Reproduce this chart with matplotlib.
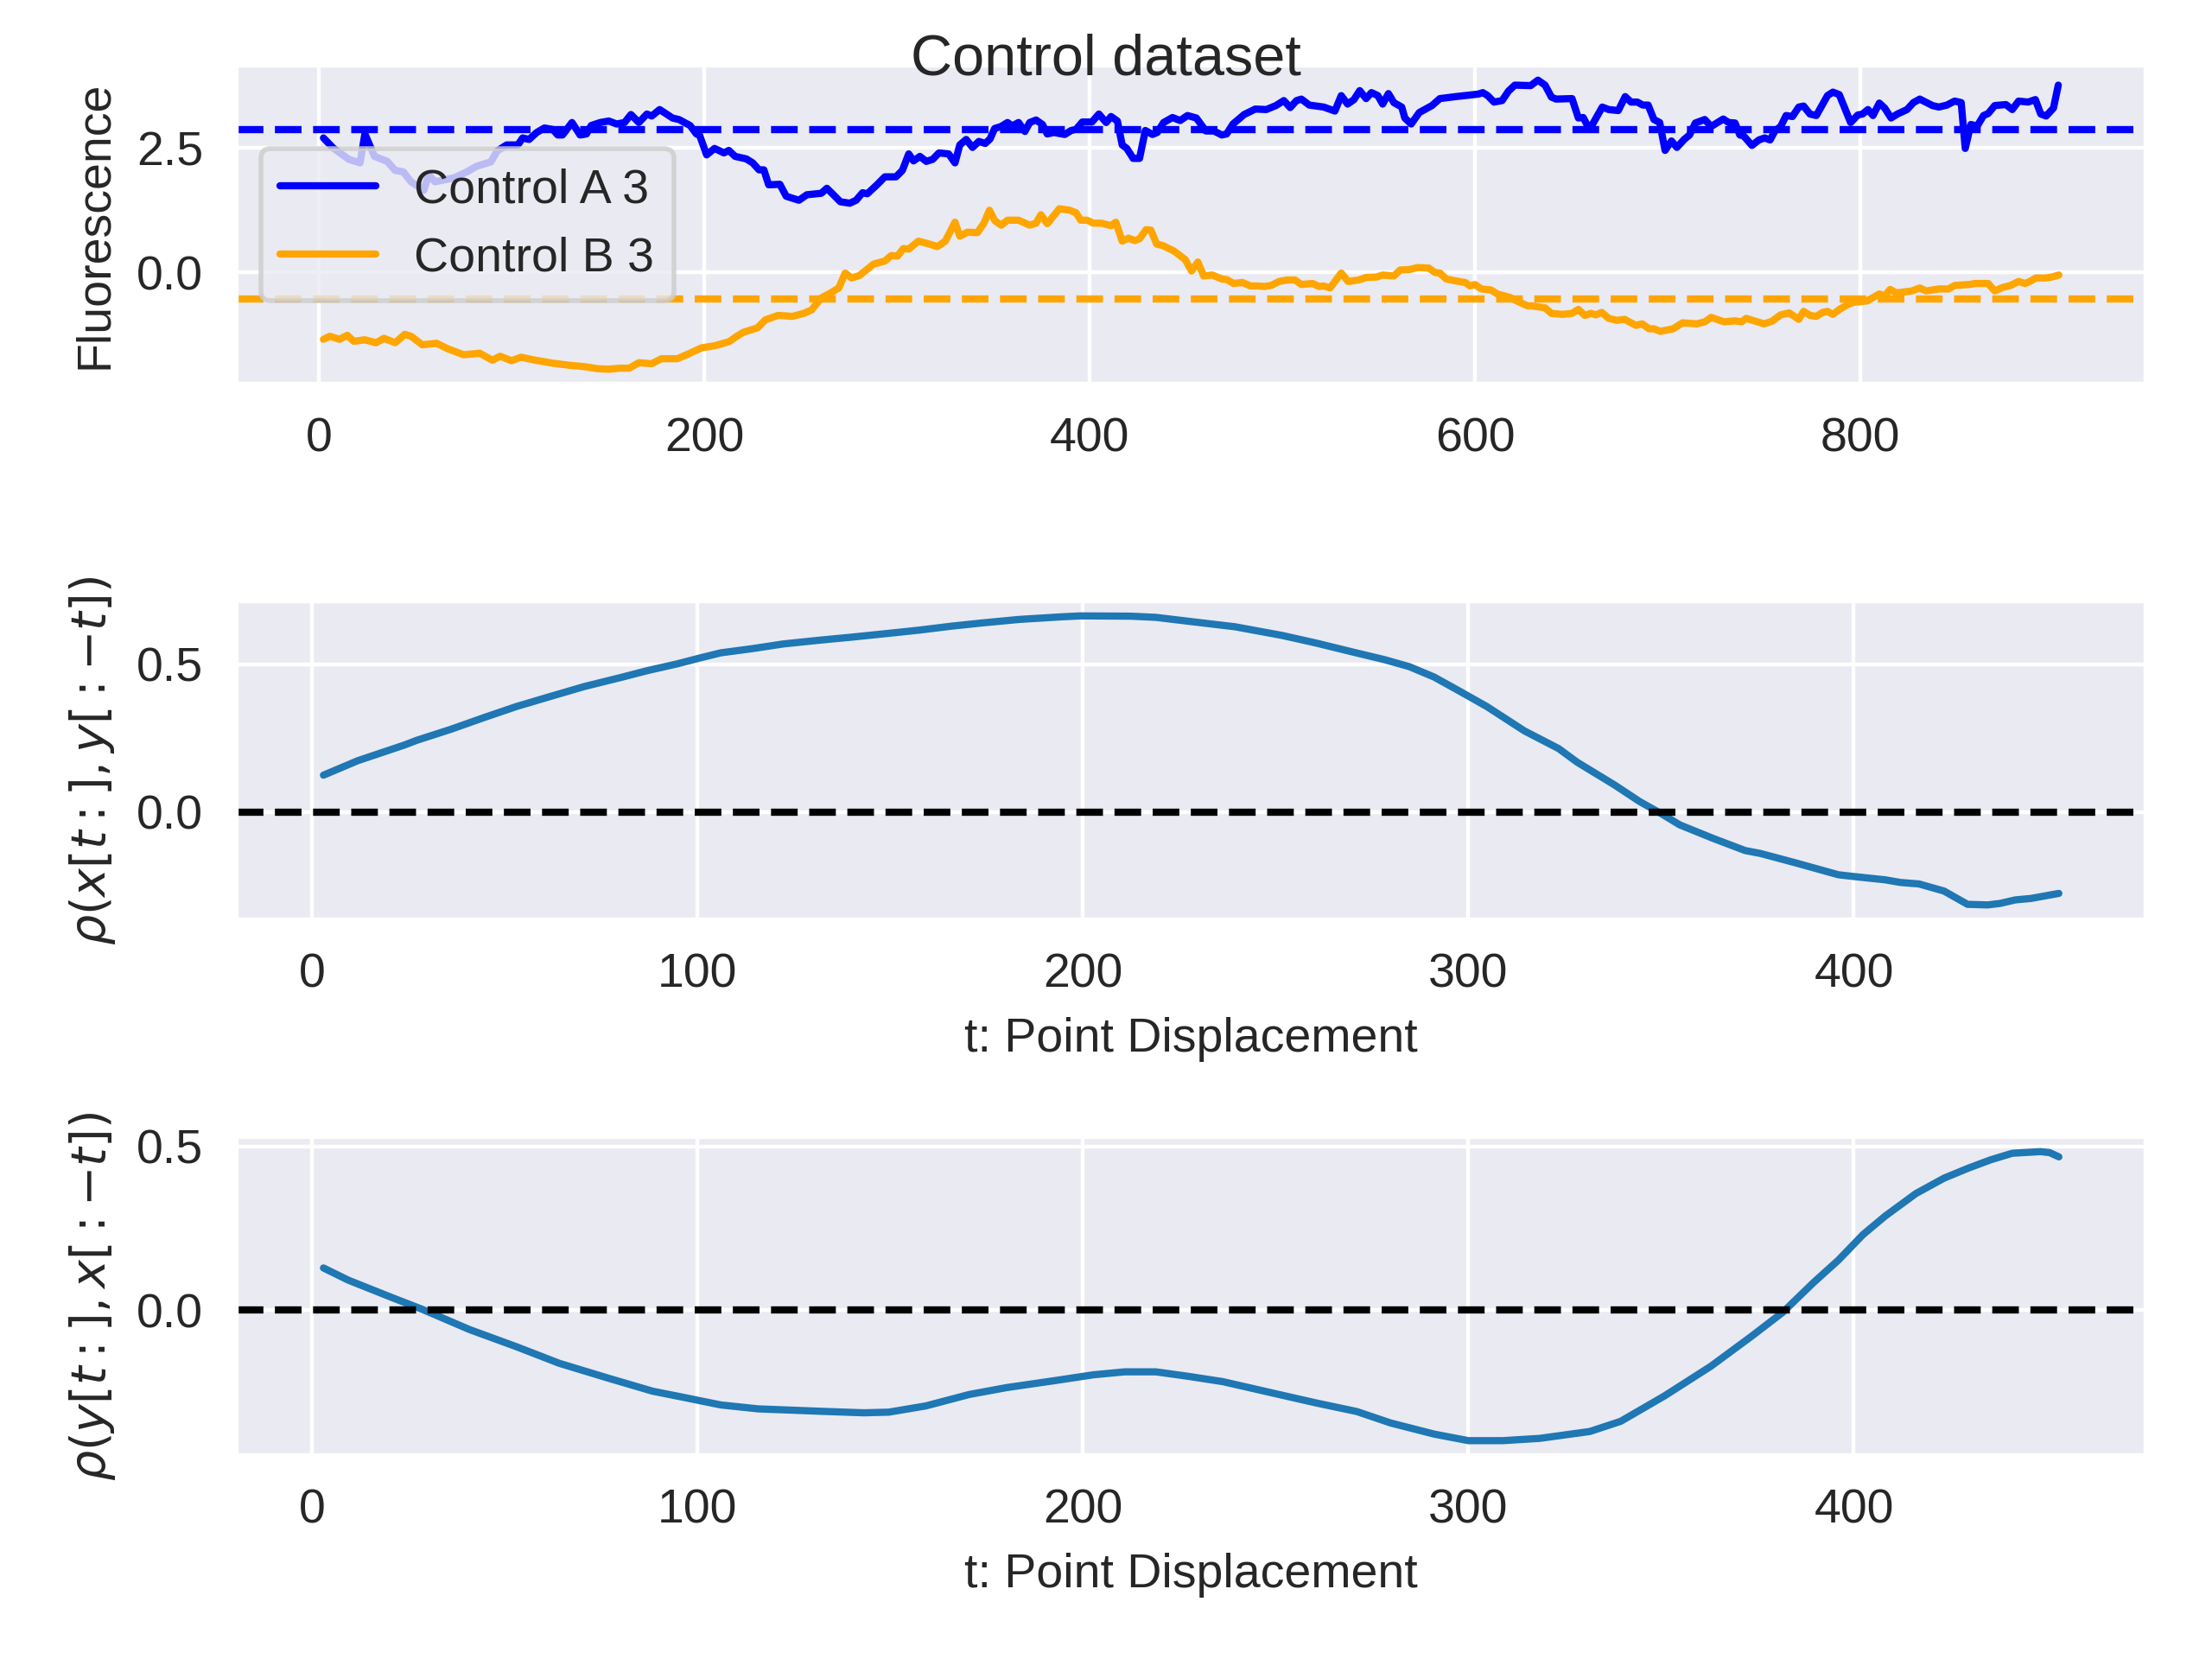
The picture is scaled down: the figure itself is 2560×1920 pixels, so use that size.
"""Control dataset: two fluorescence traces and their lagged cross-correlations."""
import matplotlib
matplotlib.use("Agg")
import matplotlib.pyplot as plt
import seaborn as sns

# --- values ---
a_t = [2.3, 7.3, 15.5, 21.3, 23.8, 28.8, 35.4, 39.5, 43.7, 47.8, 54.4, 56.9, 60.2,
       70.1, 76.8, 81.7, 89.2, 92.5, 97.4, 103.2, 105.7, 109, 113, 117, 121.4,
       123.9, 126.4, 131.3, 135.5, 138.8, 141.3, 146, 150.4, 154.5, 158.6, 161.9,
       166, 170.2, 172.7, 176.8, 183.5, 186.8, 192.6, 195.9, 197.5, 201.2, 205.3,
       210.2, 212.7, 216, 221.8, 225.1, 228.4, 230.9, 233.4, 239.2, 242.5, 249.1,
       253.2, 260.7, 263.6, 266.5, 270.6, 275.5, 278.8, 282.1, 284.6, 289.6, 293.7,
       299.5, 302.8, 306.1, 308.6, 311.9, 315.2, 318.5, 321.8, 326.8, 330.1, 332.6,
       335.9, 339.2, 342.5, 345.8, 348.3, 350.7, 354, 357.4, 359.8, 363.1, 366.4,
       368.9, 372.2, 375.5, 378, 381.3, 387.1, 390.4, 392.9, 396.2, 401.2, 404.8,
       408.6, 411.1, 414.4, 416.9, 419.3, 422.6, 425.9, 428.9, 432.6, 435.1, 438.4,
       443.0, 447.0, 450.8, 455.4, 460.3, 464.5, 468.6, 471.1, 474.4, 480.2, 486,
       491.7, 496.7, 500.8, 504.1, 507.4, 509.9, 514, 521.5, 527.3, 530.6, 533.9,
       537.2, 540.2, 543.5, 546.3, 549.6, 552.1, 555.1, 557.9, 562, 563.6, 566.9,
       571.1, 577.7, 581.8, 590.1, 601.7, 604.1, 606.6, 609.9, 614.1, 617.4, 620.7,
       628.9, 632.7, 636.4, 639.7, 642.1, 650.4, 653.7, 656.2, 659.5, 666.1, 669.4,
       674.4, 678, 681, 684.3, 687.1, 689.9, 692.9, 695.9, 698.7, 702, 704.8, 708.6,
       711.4, 714.4, 719.3, 722.6, 728.9, 731.7, 735, 737.5, 739.5, 743.8, 747.4,
       750.4, 753.2, 755.7, 758.7, 761.5, 764.8, 768.1, 770.6, 773.9, 777.2, 783,
       785.8, 789.1, 795, 798.7, 801.2, 804, 806.6, 809.9, 812.7, 816, 819.3, 824.3,
       827.6, 830.9, 837.5, 840.8, 845, 849, 852.4, 854.5, 857.4, 860.7, 864, 866.4,
       869.8, 875.6, 878.9, 882.2, 887.1, 890.9, 893.7, 896.5, 900.3, 902.8]
a_val = [2.70, 2.50, 2.27, 2.20, 2.78, 2.33, 2.23, 2.05, 2.02, 1.82, 1.65, 1.96, 1.82,
         1.90, 2.02, 2.13, 2.22, 2.44, 2.56, 2.56, 2.70, 2.67, 2.81, 2.90, 2.87,
         2.76, 2.76, 3.01, 2.76, 2.78, 2.95, 3.01, 3.04, 2.98, 3.01, 3.17,
         3.01, 3.18, 3.14, 3.27, 3.10, 3.07, 2.95, 2.78, 2.76, 2.36, 2.49,
         2.40, 2.45, 2.33, 2.28, 2.20, 2.06, 2.06, 1.76, 1.77, 1.53, 1.45,
         1.56, 1.59, 1.69, 1.58, 1.42, 1.39, 1.45, 1.60, 1.58, 1.76, 1.92,
         1.92, 2.05, 2.38, 2.24, 2.33, 2.23, 2.27, 2.40, 2.38, 2.20, 2.56,
         2.67, 2.51, 2.63, 2.59, 2.68, 2.89, 2.93, 3.01, 2.94, 3.01, 2.83,
         3.01, 3.06, 2.97, 2.78, 2.81, 2.77, 2.85, 2.87, 3.02, 3.02, 3.18,
         3.01, 3.13, 3.04, 2.56, 2.49, 2.29, 2.29, 2.85, 2.77, 2.81, 3.01,
         3.11, 3.05, 3.15, 3.10, 2.84, 2.84, 2.76, 2.78, 2.98, 3.17, 3.28,
         3.27, 3.35, 3.45, 3.31, 3.45, 3.48, 3.36, 3.32, 3.24, 3.55, 3.38,
         3.47, 3.65, 3.49, 3.61, 3.55, 3.38, 3.59, 3.41, 3.32, 3.10, 2.98,
         3.21, 3.35, 3.49, 3.53, 3.58, 3.61, 3.55, 3.42, 3.45, 3.64, 3.76,
         3.75, 3.86, 3.76, 3.52, 3.48, 3.49, 3.10, 3.11, 2.87, 3.32, 3.27,
         3.25, 3.53, 3.42, 3.42, 3.36, 3.36, 3.07, 3.01, 2.45, 2.64, 2.51, 2.67,
         2.76, 3.00, 3.07, 2.93, 3.08, 3.01, 3.00, 2.76, 2.74, 2.55, 2.66,
         2.70, 2.66, 2.84, 2.93, 3.15, 3.13, 3.32, 3.34, 3.18, 3.15, 3.55,
         3.62, 3.57, 3.01, 3.16, 3.18, 3.27, 3.15, 3.40, 3.30, 3.10, 3.18, 3.27,
         3.41, 3.48, 3.35, 3.32, 3.36, 3.44, 3.41, 2.49, 2.97, 2.94, 3.15, 3.19,
         3.35, 3.37, 3.27, 3.44, 3.42, 3.47, 3.18, 3.14, 3.30, 3.76]

b_t = [2.3, 5.6, 10.6, 14.7, 18, 23.8, 29.6, 33.7, 39.5, 44.5, 47.8, 53.6, 61, 66.8,
       75, 83.4, 90, 94, 99.9, 104.9, 112.3, 121.4, 129.7, 138, 144.6, 150.4, 156.2,
       161, 166, 172.7, 177.7, 186, 192.5, 198.7, 205.3, 212.7, 216.9, 220.2, 227.6,
       231.7, 238.3, 245.8, 251.6, 255.7, 260.7, 265.6, 269.8, 273.1, 276.4, 280.5,
       287.9, 293.7, 297, 300.3, 303.3, 306.1, 311.1, 316.9, 321, 325.1, 330.1,
       332.6, 336.7, 341.7, 345, 348, 350.8, 354.1, 357.4, 363.1, 368.9, 372.2,
       374.7, 378, 384.3, 389.6, 392.9, 395.4, 398.7, 402, 406.1, 411.1, 413.6,
       416.9, 420.2, 423.5, 426, 429.3, 431.8, 434.8, 438, 443.8, 449.6, 452.9,
       456.2, 459.2, 463.6, 468.6, 471.1, 474.7, 479.3, 483.5, 486.8, 490.9, 494.2,
       498.3, 502.5, 506.6, 509.9, 515.7, 519, 521.5, 524.8, 530.6, 534.2, 539.7,
       543.5, 549.1, 552.1, 557.9, 561.2, 566.1, 570.2, 576, 579.3, 581.8, 585.1,
       591.7, 595, 597.5, 600, 603.3, 608.3, 611.6, 618.2, 622.3, 627.3, 629.8,
       636.4, 639.7, 645.5, 650.4, 653.7, 657, 660.3, 662.8, 665.8, 669.4, 673.6,
       677.7, 683.5, 686.8, 690.4, 692.9, 696.2, 702.8, 707.8, 715.2, 719.3, 722.6,
       729.3, 735, 738.4, 740.8, 745, 750, 754.1, 758.7, 763.1, 768.1, 770.6, 773.9,
       777.2, 780.5, 783, 785.8, 789.6, 793.7, 796.2, 803.6, 809.9, 812.7, 815.5,
       818.8, 826.8, 830.9, 834.2, 840.8, 845.8, 849, 856.5, 859.8, 866.4, 869.8,
       873.9, 878, 882.2, 885.5, 888, 891.2, 896.2, 899.5, 903.1]
b_val = [-1.34, -1.28, -1.34, -1.26, -1.38, -1.35, -1.41, -1.32, -1.41, -1.24, -1.28,
         -1.45, -1.42, -1.53, -1.65, -1.62, -1.76, -1.68, -1.77, -1.70, -1.76, -1.82,
         -1.86, -1.89, -1.93, -1.94, -1.92, -1.92, -1.81, -1.83, -1.73, -1.73, -1.62,
         -1.51, -1.47, -1.39, -1.28, -1.20, -1.11, -0.95, -0.86, -0.88, -0.82, -0.75,
         -0.51, -0.41, -0.31, -0.01, -0.11, -0.06, 0.17, 0.23, 0.34, 0.33, 0.48, 0.47,
         0.63, 0.57, 0.52, 0.63, 1.01, 0.73, 0.81, 0.80, 0.98, 1.25, 1.04, 0.95, 1.05,
         1.05, 0.95, 0.99, 1.16, 0.98, 1.28, 1.25, 1.20, 1.05, 1.05, 0.99, 0.99, 0.94,
         1.01, 0.63, 0.69, 0.64, 0.68, 0.86, 0.85, 0.57, 0.54, 0.43, 0.26, 0.03, 0.21,
         -0.07, -0.05, -0.13, -0.14, -0.22, -0.20, -0.27, -0.27, -0.28, -0.26, -0.18,
         -0.15, -0.15, -0.24, -0.22, -0.28, -0.27, -0.31, -0.01, -0.18, -0.15, -0.10,
         -0.09, -0.05, -0.07, 0.05, 0.06, 0.10, 0.09, 0.00, -0.01, -0.13, -0.18, -0.20,
         -0.27, -0.24, -0.33, -0.35, -0.43, -0.50, -0.58, -0.67, -0.67, -0.71, -0.82,
         -0.84, -0.82, -0.74, -0.86, -0.82, -0.85, -0.80, -0.92, -0.96, -0.94, -1.06,
         -1.03, -1.13, -1.13, -1.18, -1.13, -1.01, -1.03, -0.99, -0.90, -0.99, -0.97,
         -0.99, -0.92, -0.97, -1.03, -0.98, -0.85, -0.81, -0.94, -0.78, -0.86, -0.88,
         -0.80, -0.78, -0.84, -0.73, -0.64, -0.60, -0.57, -0.43, -0.47, -0.34, -0.41,
         -0.37, -0.31, -0.37, -0.33, -0.33, -0.26, -0.24, -0.22, -0.22, -0.37, -0.30,
         -0.26, -0.18, -0.22, -0.18, -0.11, -0.11, -0.09, -0.05]

a_mean = 2.86
b_mean = -0.53

lag_xy = [2.9, 11.8, 23.9, 27.1, 35.9, 44.8, 52.9, 60.9, 70.6, 80.2, 86.7, 94.8, 100.4,
          106, 114.1, 122.2, 131.8, 139.9, 149.6, 157.6, 165.7, 173.7, 183.4, 194.7,
          199.5, 212.4, 218.9, 225.3, 239.5, 251.6, 260.5, 270.2, 278.2, 284.7,
          291.1, 297.6, 304.8, 314.5, 323.4, 328.2, 337.9, 344.4, 350, 354.8, 363.7,
          371.8, 375.8, 384.7, 396, 400.8, 408.1, 412.1, 416.9, 423.4, 429.5, 434.7,
          437.9, 441.9, 446, 453.2]
rho_xy = [0.125, 0.174, 0.227, 0.243, 0.280, 0.321, 0.357, 0.388, 0.425, 0.456, 0.478,
          0.502, 0.521, 0.539, 0.553, 0.569, 0.582, 0.592, 0.605, 0.616, 0.629, 0.640,
          0.652, 0.661, 0.664, 0.663, 0.659, 0.649, 0.627, 0.598, 0.572, 0.541,
          0.516, 0.492, 0.457, 0.410, 0.357, 0.275, 0.215, 0.169, 0.092, 0.036,
          -0.005, -0.043, -0.090, -0.130, -0.140, -0.171, -0.212, -0.219, -0.229,
          -0.238, -0.243, -0.267, -0.312, -0.314, -0.309, -0.297, -0.292, -0.275]

lag_yx = [2.9, 9.3, 20.6, 28.7, 40.8, 52.9, 64.1, 77, 88.3, 96.4, 106, 115.7, 133.4,
          143.1, 149.6, 159.2, 170.5, 180.2, 193.1, 202.7, 210.8, 218.9, 226.9, 236.3,
          250.8, 260.5, 271, 279.8, 291.1, 300, 308.9, 318.5, 331.5, 339.5, 350.8,
          362.9, 373.4, 381.5, 389.5, 396, 402.4, 408.1, 416.1, 423.4, 429.8, 435.5,
          441.1, 448.4, 450.8, 453.2]
rho_yx = [0.129, 0.092, 0.039, 0.002, -0.059, -0.111, -0.162, -0.208, -0.247, -0.266,
          -0.289, -0.301, -0.309, -0.313, -0.311, -0.292, -0.257, -0.236, -0.214,
          -0.197, -0.188, -0.188, -0.201, -0.218, -0.257, -0.283, -0.309, -0.344,
          -0.378, -0.398, -0.398, -0.391, -0.370, -0.339, -0.262, -0.171, -0.080,
          -0.007, 0.084, 0.153, 0.231, 0.287, 0.356, 0.403, 0.434, 0.459, 0.479,
          0.484, 0.481, 0.468]

sns.set_style("darkgrid")
plt.rcParams["font.family"] = ["Liberation Sans", "DejaVu Sans"]

fig, axes = plt.subplots(3, 1, figsize=(6.4, 4.8), dpi=400)
fig.subplots_adjust(left=0.107, right=0.970, top=0.9604, bottom=0.1229, hspace=0.685)
fig.suptitle("Control dataset")

ax = axes[0]
ax.plot(a_t, a_val, color="blue", label="Control A 3")
ax.plot(b_t, b_val, color="orange", label="Control B 3")
ax.axhline(a_mean, color="blue", ls="--")
ax.axhline(b_mean, color="orange", ls="--")
ax.set_ylabel("Fluorescence")
ax.legend(loc="center left")

ax = axes[1]
ax.plot(lag_xy, rho_xy)
ax.axhline(0, color="k", ls="--")
ax.set_xlabel("t: Point Displacement")
ax.set_ylabel(r"$\rho(x[t:], y[:-t])$")

ax = axes[2]
ax.plot(lag_yx, rho_yx)
ax.axhline(0, color="k", ls="--")
ax.set_xlabel("t: Point Displacement")
ax.set_ylabel(r"$\rho(y[t:], x[:-t])$")

fig.savefig("out.png", dpi=400)
